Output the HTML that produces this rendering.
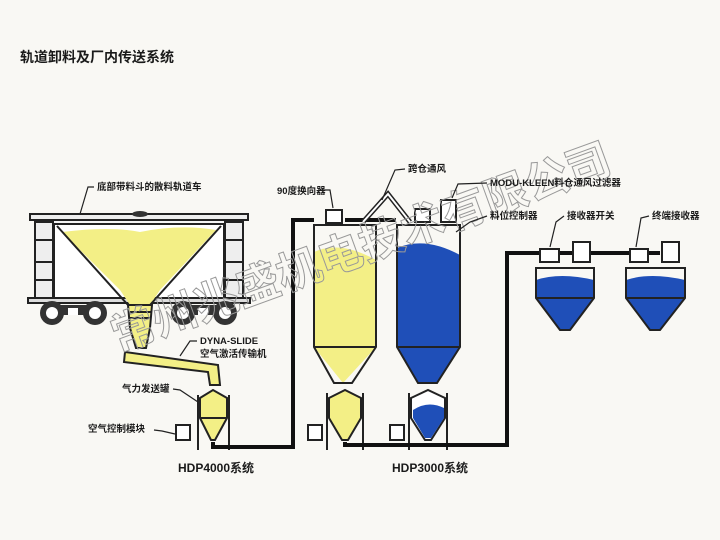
<!DOCTYPE html>
<html><head><meta charset="utf-8"><style>
html,body{margin:0;padding:0;background:#f9f8f4;}
svg{display:block}
text{font-family:"Liberation Sans","Noto Sans CJK SC",sans-serif;font-weight:bold;fill:#1a1a1a;}
</style></head><body>
<svg width="720" height="540" viewBox="0 0 720 540" xmlns="http://www.w3.org/2000/svg">
<rect width="720" height="540" fill="#f9f8f4"/>
<text x="20" y="62" font-size="14">轨道卸料及厂内传送系统</text>

<!-- railcar -->
<g stroke="#222" stroke-width="2" fill="none">
<rect x="30" y="214" width="218" height="6" fill="#eee"/>
<rect x="35" y="220" width="208" height="80" fill="#f4f4f4"/>
<rect x="54" y="224" width="170" height="74" fill="#fff"/>
<rect x="35" y="222" width="18" height="78" fill="#eee"/>
<rect x="225" y="222" width="18" height="78" fill="#eee"/>
<line x1="35" y1="240" x2="53" y2="240"/><line x1="35" y1="262" x2="53" y2="262"/><line x1="35" y1="280" x2="53" y2="280"/>
<line x1="225" y1="240" x2="243" y2="240"/><line x1="225" y1="262" x2="243" y2="262"/><line x1="225" y1="280" x2="243" y2="280"/>
<rect x="28" y="298" width="222" height="5" fill="#ddd"/>
</g>
<path d="M62 232 Q110 226 140 232 Q180 224 216 230 L160 290 L150 305 L130 305 L120 290 Z" fill="#f3ef86"/>
<path d="M57 226 L128 305 L150 305 L221 226" fill="none" stroke="#222" stroke-width="2"/>
<ellipse cx="140" cy="214" rx="8" ry="3" fill="#333"/>
<g fill="#333">
<circle cx="52" cy="313" r="12"/><circle cx="95" cy="313" r="12"/>
<circle cx="183" cy="313" r="12"/><circle cx="225" cy="313" r="12"/>
<rect x="52" y="305" width="43" height="10"/><rect x="183" y="305" width="42" height="10"/>
</g>
<g fill="#fff"><circle cx="52" cy="313" r="6"/><circle cx="95" cy="313" r="6"/><circle cx="183" cy="313" r="6"/><circle cx="225" cy="313" r="6"/>
<rect x="68" y="308" width="10" height="7"/><rect x="198" y="308" width="10" height="7"/></g>
<!-- chute -->
<path d="M128 305 L152 305 L150 328 L146 348 L136 348 L130 328 Z" fill="#f3ef86" stroke="#222" stroke-width="2"/>
<line x1="129" y1="312" x2="151" y2="312" stroke="#222" stroke-width="2"/>
<line x1="129" y1="318" x2="151" y2="318" stroke="#222" stroke-width="2"/>
<!-- slide conveyor -->
<path d="M125 352 L218 365 L220 385 L210 385 L208 372 L124 362 Z" fill="#f3ef86" stroke="#222" stroke-width="2"/>
<!-- HDP4000 vessel -->
<g stroke="#222" stroke-width="2">
<path d="M200 398 L213 390 L227 398 L227 418 L215 440 L211 440 L200 418 Z" fill="#f3ef86"/>
<line x1="200" y1="418" x2="227" y2="418"/>
<line x1="198" y1="395" x2="198" y2="450"/><line x1="229" y1="395" x2="229" y2="450"/>
<rect x="176" y="425" width="14" height="15" fill="#fff"/>
</g>
<!-- pipe -->
<path d="M213 442 L213 447 L293 447 L293 220 L314 220" fill="none" stroke="#111" stroke-width="4"/>
<path d="M345 220 L396 220" stroke="#111" stroke-width="4"/>
<rect x="326" y="210" width="16" height="13" fill="#fff" stroke="#222" stroke-width="2"/>
<!-- silo 1 -->
<path d="M314 252 Q340 240 376 260 L376 347 L343 383 L314 347 Z" fill="#f3ef86"/>
<path d="M314 225 L376 225 L376 347 L352 383 L334 383 L314 347 Z" fill="none" stroke="#222" stroke-width="2"/>
<line x1="314" y1="347" x2="376" y2="347" stroke="#222" stroke-width="2"/>
<!-- vent -->
<path d="M363 222 L388 194 L410 222" fill="none" stroke="#222" stroke-width="5"/>
<path d="M363 222 L388 194 L410 222" fill="none" stroke="#fff" stroke-width="2"/>
<!-- silo 2 -->
<path d="M397 248 Q425 236 460 255 L460 347 L437 383 L418 383 L397 347 Z" fill="#1f4fb8"/>
<path d="M397 225 L460 225 L460 347 L437 383 L418 383 L397 347 Z" fill="none" stroke="#222" stroke-width="2"/>
<line x1="397" y1="347" x2="460" y2="347" stroke="#222" stroke-width="2"/>
<rect x="415" y="209" width="15" height="13" fill="#fff" stroke="#222" stroke-width="2"/>
<rect x="441" y="200" width="15" height="22" fill="#fff" stroke="#222" stroke-width="2"/>
<!-- small vessels -->
<g stroke="#222" stroke-width="2">
<path d="M329 398 L345 390 L361 398 L361 418 L348 440 L342 440 L329 418 Z" fill="#f3ef86"/>
<line x1="327" y1="393" x2="327" y2="450"/><line x1="363" y1="393" x2="363" y2="450"/>
<rect x="308" y="425" width="14" height="15" fill="#fff"/>
<path d="M411 398 L428 390 L445 398 L445 418 L431 440 L425 440 L411 418 Z" fill="#fff"/>
<path d="M413 410 Q428 400 444 408 L444 418 L431 438 L425 438 L413 418 Z" fill="#1f4fb8" stroke="none"/>
<line x1="409" y1="393" x2="409" y2="450"/><line x1="447" y1="393" x2="447" y2="450"/>
<rect x="390" y="425" width="14" height="15" fill="#fff"/>
</g>
<path d="M345 442 L345 445 L507 445 L507 253 L660 253" fill="none" stroke="#111" stroke-width="4"/>
<!-- receivers -->
<g stroke="#222" stroke-width="2">
<path d="M536 280 Q560 272 594 280 L594 298 L570 330 L560 330 L536 298 Z" fill="#1f4fb8" stroke="none"/>
<path d="M536 268 L594 268 L594 298 L570 330 L560 330 L536 298 Z" fill="none"/>
<line x1="536" y1="298" x2="594" y2="298"/>
<rect x="540" y="249" width="19" height="13" fill="#fff"/>
<rect x="573" y="242" width="17" height="20" fill="#fff"/>
<path d="M626 280 Q650 272 685 280 L685 298 L660 330 L650 330 L626 298 Z" fill="#1f4fb8" stroke="none"/>
<path d="M626 268 L685 268 L685 298 L660 330 L650 330 L626 298 Z" fill="none"/>
<line x1="626" y1="298" x2="685" y2="298"/>
<rect x="630" y="249" width="18" height="13" fill="#fff"/>
<rect x="662" y="242" width="17" height="20" fill="#fff"/>
</g>
<!-- watermark -->
<text x="0" y="0" font-size="44" font-weight="normal" style="fill:none;stroke:#999;stroke-width:1" transform="translate(118,352) rotate(-20)">常州兆盛机电技术有限公司</text>
<!-- labels -->
<g font-size="9.5">
<text x="97" y="190">底部带料斗的散料轨道车</text>
<text x="277" y="194">90度换向器</text>
<text x="408" y="172">跨仓通风</text>
<text x="490" y="186">MODU-KLEEN料仓通风过滤器</text>
<text x="490" y="219">料位控制器</text>
<text x="567" y="219">接收器开关</text>
<text x="652" y="219">终端接收器</text>
<text x="200" y="344">DYNA-SLIDE</text>
<text x="200" y="357">空气激活传输机</text>
<text x="122" y="392">气力发送罐</text>
<text x="88" y="432">空气控制模块</text>
</g>
<text x="178" y="472" font-size="12">HDP4000系统</text>
<text x="392" y="472" font-size="12">HDP3000系统</text>
<g fill="none" stroke="#222" stroke-width="1.2">
<path d="M94 187 L88 187 L80 214"/><path d="M318 190 L330 190 L333 208"/>
<path d="M405 169 L395 170 L382 200"/><path d="M487 183 L458 184 L452 198"/>
<path d="M487 216 L470 222 L456 232"/><path d="M564 216 L556 222 L550 247"/>
<path d="M649 216 L641 218 L636 247"/><path d="M197 341 L190 341 L180 356"/>
<path d="M173 389 L180 390 L198 402"/><path d="M154 430 L162 431 L175 434"/>
</g>
</svg>
</body></html>
